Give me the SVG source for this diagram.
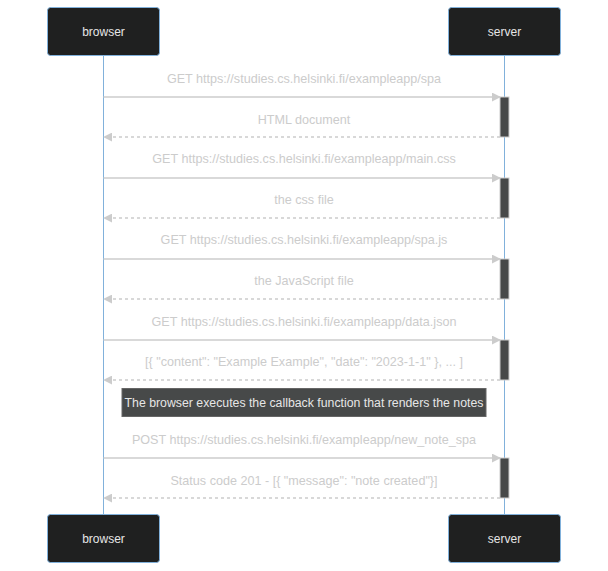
<svg xmlns="http://www.w3.org/2000/svg" width="608" height="571" viewBox="0 0 608 571">
  <style>
    .actor rect { fill: #1f2020; stroke: #81b1db; stroke-width: 1; }
    .actor text { fill: #e6e6e6; font-family: "Liberation Sans", Arial, sans-serif; font-size: 12px; text-anchor: middle; dominant-baseline: central; }
    .lifeline { stroke: #81b1db; stroke-width: 1; }
    .msg { stroke: #cccccc; stroke-width: 1.5; fill: none; }
    .ret { stroke: #cccccc; stroke-width: 1.5; fill: none; stroke-dasharray: 3 3; }
    .label { fill: #cccccc; font-family: "Liberation Sans", Arial, sans-serif; font-size: 12.6px; text-anchor: middle; dominant-baseline: central; }
    .activation { fill: #474949; stroke: #cccccc; stroke-width: 1; }
    .note rect { fill: #474949; stroke: #666666; stroke-width: 1; }
    .note text { fill: #e6e6e6; font-family: "Liberation Sans", Arial, sans-serif; font-size: 12.3px; text-anchor: middle; dominant-baseline: central; }
  </style>
  <defs>
    <marker id="arrowhead" viewBox="0 0 10 10" refX="9" refY="5" markerWidth="9" markerHeight="9" markerUnits="userSpaceOnUse" orient="auto">
      <path d="M0,0 L10,5 L0,10 z" fill="#cccccc"/>
    </marker>
  </defs>
  <rect width="608" height="571" fill="#ffffff"/>

  <!-- lifelines -->
  <g id="lifelines">
    <line class="lifeline" x1="103.5" y1="55" x2="103.5" y2="514"/>
    <line class="lifeline" x1="504.5" y1="55" x2="504.5" y2="514"/>
  </g>

  <!-- actors, top and bottom -->
  <g id="browser-top" class="actor">
    <rect x="47.5" y="7.5" width="112" height="48" rx="3"/>
    <text x="103.5" y="31.5">browser</text>
  </g>
  <g id="server-top" class="actor">
    <rect x="448.5" y="7.5" width="112" height="48" rx="3"/>
    <text x="504.5" y="31.5">server</text>
  </g>
  <g id="browser-bottom" class="actor">
    <rect x="47.5" y="514.5" width="112" height="48" rx="3"/>
    <text x="103.5" y="538.5">browser</text>
  </g>
  <g id="server-bottom" class="actor">
    <rect x="448.5" y="514.5" width="112" height="48" rx="3"/>
    <text x="504.5" y="538.5">server</text>
  </g>

  <!-- server activations -->
  <g id="activations">
    <rect class="activation" x="500" y="97" width="9" height="40"/>
    <rect class="activation" x="500" y="178" width="9" height="40"/>
    <rect class="activation" x="500" y="259" width="9" height="40"/>
    <rect class="activation" x="500" y="340" width="9" height="40"/>
    <rect class="activation" x="500" y="458" width="9" height="40"/>
  </g>

  <!-- messages -->
  <g id="connectors">
    <line class="msg" x1="103.5" y1="97" x2="500" y2="97" marker-end="url(#arrowhead)"/>
    <line class="ret" x1="500" y1="137" x2="104" y2="137" marker-end="url(#arrowhead)"/>
    <line class="msg" x1="103.5" y1="178" x2="500" y2="178" marker-end="url(#arrowhead)"/>
    <line class="ret" x1="500" y1="218" x2="104" y2="218" marker-end="url(#arrowhead)"/>
    <line class="msg" x1="103.5" y1="259" x2="500" y2="259" marker-end="url(#arrowhead)"/>
    <line class="ret" x1="500" y1="299" x2="104" y2="299" marker-end="url(#arrowhead)"/>
    <line class="msg" x1="103.5" y1="340" x2="500" y2="340" marker-end="url(#arrowhead)"/>
    <line class="ret" x1="500" y1="380" x2="104" y2="380" marker-end="url(#arrowhead)"/>
    <line class="msg" x1="103.5" y1="458" x2="500" y2="458" marker-end="url(#arrowhead)"/>
    <line class="ret" x1="500" y1="498" x2="104" y2="498" marker-end="url(#arrowhead)"/>
  </g>

  <g id="message-labels">
    <text class="label" x="304" y="79">GET https://studies.cs.helsinki.fi/exampleapp/spa</text>
    <text class="label" x="304" y="120">HTML document</text>
    <text class="label" x="304" y="159">GET https://studies.cs.helsinki.fi/exampleapp/main.css</text>
    <text class="label" x="304" y="200">the css file</text>
    <text class="label" x="304" y="240">GET https://studies.cs.helsinki.fi/exampleapp/spa.js</text>
    <text class="label" x="304" y="281">the JavaScript file</text>
    <text class="label" x="304" y="322">GET https://studies.cs.helsinki.fi/exampleapp/data.json</text>
    <text class="label" x="304" y="362">[{ "content": "Example Example", "date": "2023-1-1" }, ... ]</text>
    <text class="label" x="304" y="440">POST https://studies.cs.helsinki.fi/exampleapp/new_note_spa</text>
    <text class="label" x="304" y="481">Status code 201 - [{ "message": "note created"}]</text>
  </g>

  <!-- note over both lifelines -->
  <g id="note-callback" class="note">
    <rect x="122" y="388.5" width="364" height="28"/>
    <text x="304" y="403">The browser executes the callback function that renders the notes</text>
  </g>
</svg>
